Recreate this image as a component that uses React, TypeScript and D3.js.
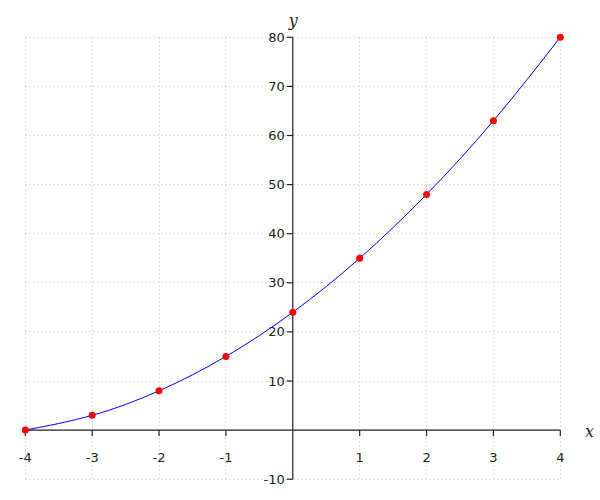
import React from "react";
import * as d3 from "d3";

const xValues = [-4, -3, -2, -1, 0, 1, 2, 3, 4];
const yValues = [0, 3, 8, 15, 24, 35, 48, 63, 80];
const xTicks = [-4, -3, -2, -1, 1, 2, 3, 4];
const yTicks = [-10, 10, 20, 30, 40, 50, 60, 70, 80];
const xGrid = [-4, -3, -2, -1, 0, 1, 2, 3, 4];
const yGrid = [-10, 0, 10, 20, 30, 40, 50, 60, 70, 80];

export default function App() {
  const W = 600, H = 500;
  const x = d3.scaleLinear().domain([-4, 4]).range([25.3, 560.3]);
  const y = d3.scaleLinear().domain([-10, 80]).range([479.2, 37.3]);
  const crisp = (v: number) => Math.floor(v) + 0.5;
  const pts = xValues.map((v, i) => [v, yValues[i]] as [number, number]);
  const line = d3.line<[number, number]>().x(d => x(d[0])).y(d => y(d[1])).curve(d3.curveNatural);
  const font = "DejaVu Sans, sans-serif";
  const textColor = "#222";
  return (
    <svg width={W} height={H} style={{ position: "absolute", left: 0, top: 0, background: "#fff" }}>
      <g stroke="#c0c0c0" strokeWidth={1} strokeDasharray="1,3">
        {xGrid.map(v => (
          <line key={"gx" + v} x1={crisp(x(v))} x2={crisp(x(v))} y1={crisp(y(80))} y2={crisp(y(-10))} />
        ))}
        {yGrid.map(v => (
          <line key={"gy" + v} x1={crisp(x(-4))} x2={crisp(x(4))} y1={crisp(y(v))} y2={crisp(y(v))} />
        ))}
      </g>
      <g stroke="#222" strokeWidth={1.2}>
        <line x1={x(-4)} x2={x(4)} y1={y(0)} y2={y(0)} />
        <line x1={x(0)} x2={x(0)} y1={y(80)} y2={y(-10)} />
        {xTicks.map(v => (
          <line key={"tx" + v} x1={x(v)} x2={x(v)} y1={y(0)} y2={y(0) + 6} />
        ))}
        {yTicks.map(v => (
          <line key={"ty" + v} x1={x(0) - 6} x2={x(0)} y1={y(v)} y2={y(v)} />
        ))}
      </g>
      <g fontFamily={font} fontSize={13} fill={textColor}>
        {xTicks.map(v => (
          <text key={"lx" + v} x={x(v)} y={y(0) + 32} textAnchor="middle">{v}</text>
        ))}
        {yTicks.map(v => (
          <text key={"ly" + v} x={x(0) - 8} y={y(v) + 4.5} textAnchor="end">{v}</text>
        ))}
      </g>
      <text x={x(0) - 4} y={26} fontFamily="DejaVu Serif, serif" fontStyle="italic" fontSize={16} fill={textColor}>y</text>
      <text x={585} y={437} fontFamily="DejaVu Serif, serif" fontStyle="italic" fontSize={16} fill={textColor}>x</text>
      <path d={line(pts) || ""} fill="none" stroke="#0000ff" strokeWidth={1} />
      {pts.map((p, i) => (
        <circle key={"c" + i} cx={x(p[0])} cy={y(p[1])} r={3.5} fill="#ff0000" />
      ))}
    </svg>
  );
}
